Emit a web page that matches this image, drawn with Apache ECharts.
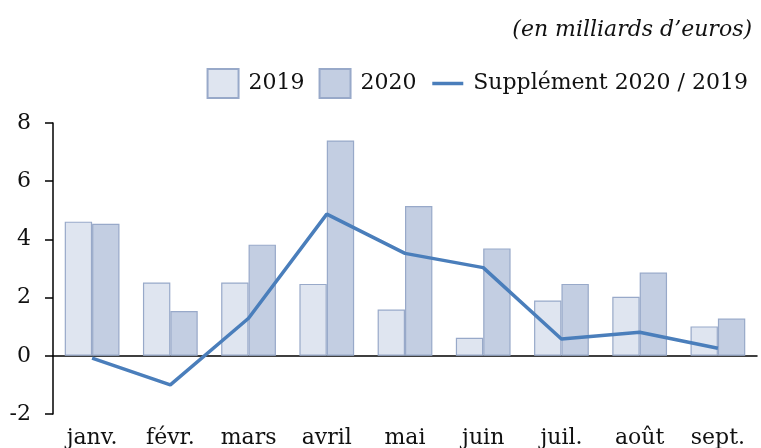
<!DOCTYPE html>
<html>
<head>
<meta charset="utf-8">
<script src="https://cdn.jsdelivr.net/npm/echarts@6/dist/echarts.min.js"></script>
<style>
	html, body { margin: 0; padding: 0; background: #fff; }
	#chart { width: 761px; height: 448px; }
</style>
</head>
<body>
<div id="chart"></div>
<script>
	// valeurs
	var mois = ['janv.', 'févr.', 'mars', 'avril', 'mai', 'juin', 'juil.', 'août', 'sept.'];
	var v2019 = [4.61, 2.52, 2.52, 2.47, 1.59, 0.62, 1.90, 2.03, 1.01];
	var v2020 = [4.54, 1.54, 3.82, 7.40, 5.15, 3.69, 2.47, 2.86, 1.28];
	var supplement = [-0.08, -1.0, 1.29, 4.87, 3.52, 3.03, 0.58, 0.81, 0.26];
	var yTicks = [-2, 0, 2, 4, 6, 8];

	var police = '"DejaVu Serif", serif';
	var chart = echarts.init(document.getElementById('chart'));

	var option = {
		animation: false,
		textStyle: { fontFamily: police, color: '#111' },
		title: {
			text: '(en milliards d\u2019euros)',
			right: 4,
			top: 14,
			textStyle: { fontFamily: police, fontStyle: 'italic', fontWeight: 'normal', fontSize: 22, color: '#111' }
		},
		legend: {
			right: 8,
			top: 63,
			itemWidth: 31,
			itemHeight: 29,
			itemGap: 14,
			textStyle: { fontFamily: police, fontSize: 22, color: '#111', padding: [0, 0, 0, 5] },
			data: [
				{ name: '2019', icon: 'rect' },
				{ name: '2020', icon: 'rect' },
				// pas de rond dans la légende de la courbe
				{
					name: 'Supplément 2020 / 2019',
					itemStyle: { color: 'rgba(0,0,0,0)', borderColor: 'rgba(0,0,0,0)' },
					lineStyle: { width: 3.5, color: '#4a7ebb' }
				}
			]
		},
		grid: {
			left: 53,
			right: 4,
			top: 123,
			bottom: 34,
			outerBoundsMode: 'none'
		},
		xAxis: [
			{
				// axe des libellés, en bas
				type: 'category',
				data: mois,
				position: 'bottom',
				axisLine: { show: false, onZero: false },
				axisTick: { show: false },
				axisLabel: { margin: 13, fontSize: 22, color: '#111', fontFamily: police }
			},
			{
				// trait du zéro
				type: 'category',
				data: mois,
				position: 'bottom',
				axisLine: { onZero: true, lineStyle: { color: '#000', width: 1.5 } },
				axisTick: { show: false },
				axisLabel: { show: false }
			}
		],
		yAxis: {
			type: 'value',
			min: yTicks[0],
			max: yTicks[yTicks.length - 1],
			interval: 2,
			splitLine: { show: false },
			axisLine: { show: true, lineStyle: { color: '#000', width: 1.5 } },
			axisTick: { show: true, length: 8, lineStyle: { color: '#000', width: 1.5 } },
			axisLabel: { margin: 22, fontSize: 22, color: '#111', fontFamily: police }
		},
		series: [
			{
				name: '2019',
				type: 'bar',
				data: v2019,
				barGap: '0%',
				barCategoryGap: '30%',
				itemStyle: { color: '#dfe5f0', borderColor: '#98a9c9', borderWidth: 1.2 }
			},
			{
				name: '2020',
				type: 'bar',
				data: v2020,
				itemStyle: { color: '#c3cee2', borderColor: '#98a9c9', borderWidth: 1.2 }
			},
			{
				name: 'Supplément 2020 / 2019',
				type: 'line',
				data: supplement,
				symbol: 'none',
				lineStyle: { color: '#4a7ebb', width: 3.5 },
				itemStyle: { color: '#4a7ebb' }
			}
		]
	};
	chart.setOption(option);
</script>
</body>
</html>
